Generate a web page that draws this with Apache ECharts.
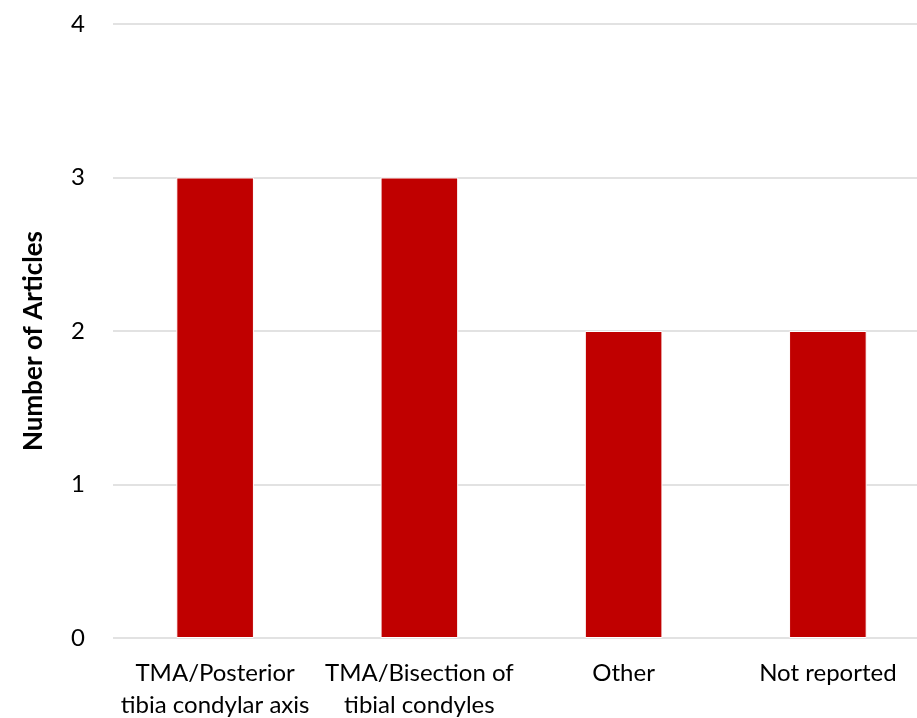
<!DOCTYPE html>
<html><head><meta charset="utf-8">
<script src="https://cdn.jsdelivr.net/npm/echarts@6/dist/echarts.min.js"></script>
<style>html,body{margin:0;padding:0;background:#fff}#c{width:917px;height:718px}</style>
</head><body><div id="c"></div>
<script>
const categories = ['TMA/Posterior\ntibia condylar axis', 'TMA/Bisection of\ntibial condyles', 'Other', 'Not reported'];
const values = [3, 3, 2, 2];
const yTicks = [0, 1, 2, 3, 4];
const chart = echarts.init(document.getElementById('c'), null, {renderer: 'canvas'});
chart.setOption({
  animation: false,
  grid: {left: 113, top: 24, width: 817, height: 614, containLabel: false, outerBoundsMode: 'none'},
  xAxis: {
    type: 'category', data: categories,
    axisLine: {show: false}, axisTick: {show: false},
    axisLabel: {fontFamily: 'Lato', fontSize: 24, color: '#000', margin: 19, lineHeight: 32, interval: 0}
  },
  yAxis: {
    type: 'value', min: yTicks[0], max: yTicks[yTicks.length - 1], interval: 1,
    name: 'Number of Articles', nameLocation: 'middle', nameGap: 66, nameRotate: 90,
    nameTextStyle: {fontFamily: 'Lato', fontSize: 26, fontWeight: 'bold', color: '#000', padding: [0, 20, 0, 0]},
    axisLine: {show: false}, axisTick: {show: false},
    axisLabel: {fontFamily: 'Lato', fontSize: 24, color: '#000', margin: 28},
    splitLine: {lineStyle: {color: '#d9d9d9', width: 1.5}}
  },
  series: [{
    type: 'bar', data: values, barWidth: '38%',
    itemStyle: {color: '#c00000', borderColor: '#fff', borderWidth: 1}
  }]
});
</script></body></html>
